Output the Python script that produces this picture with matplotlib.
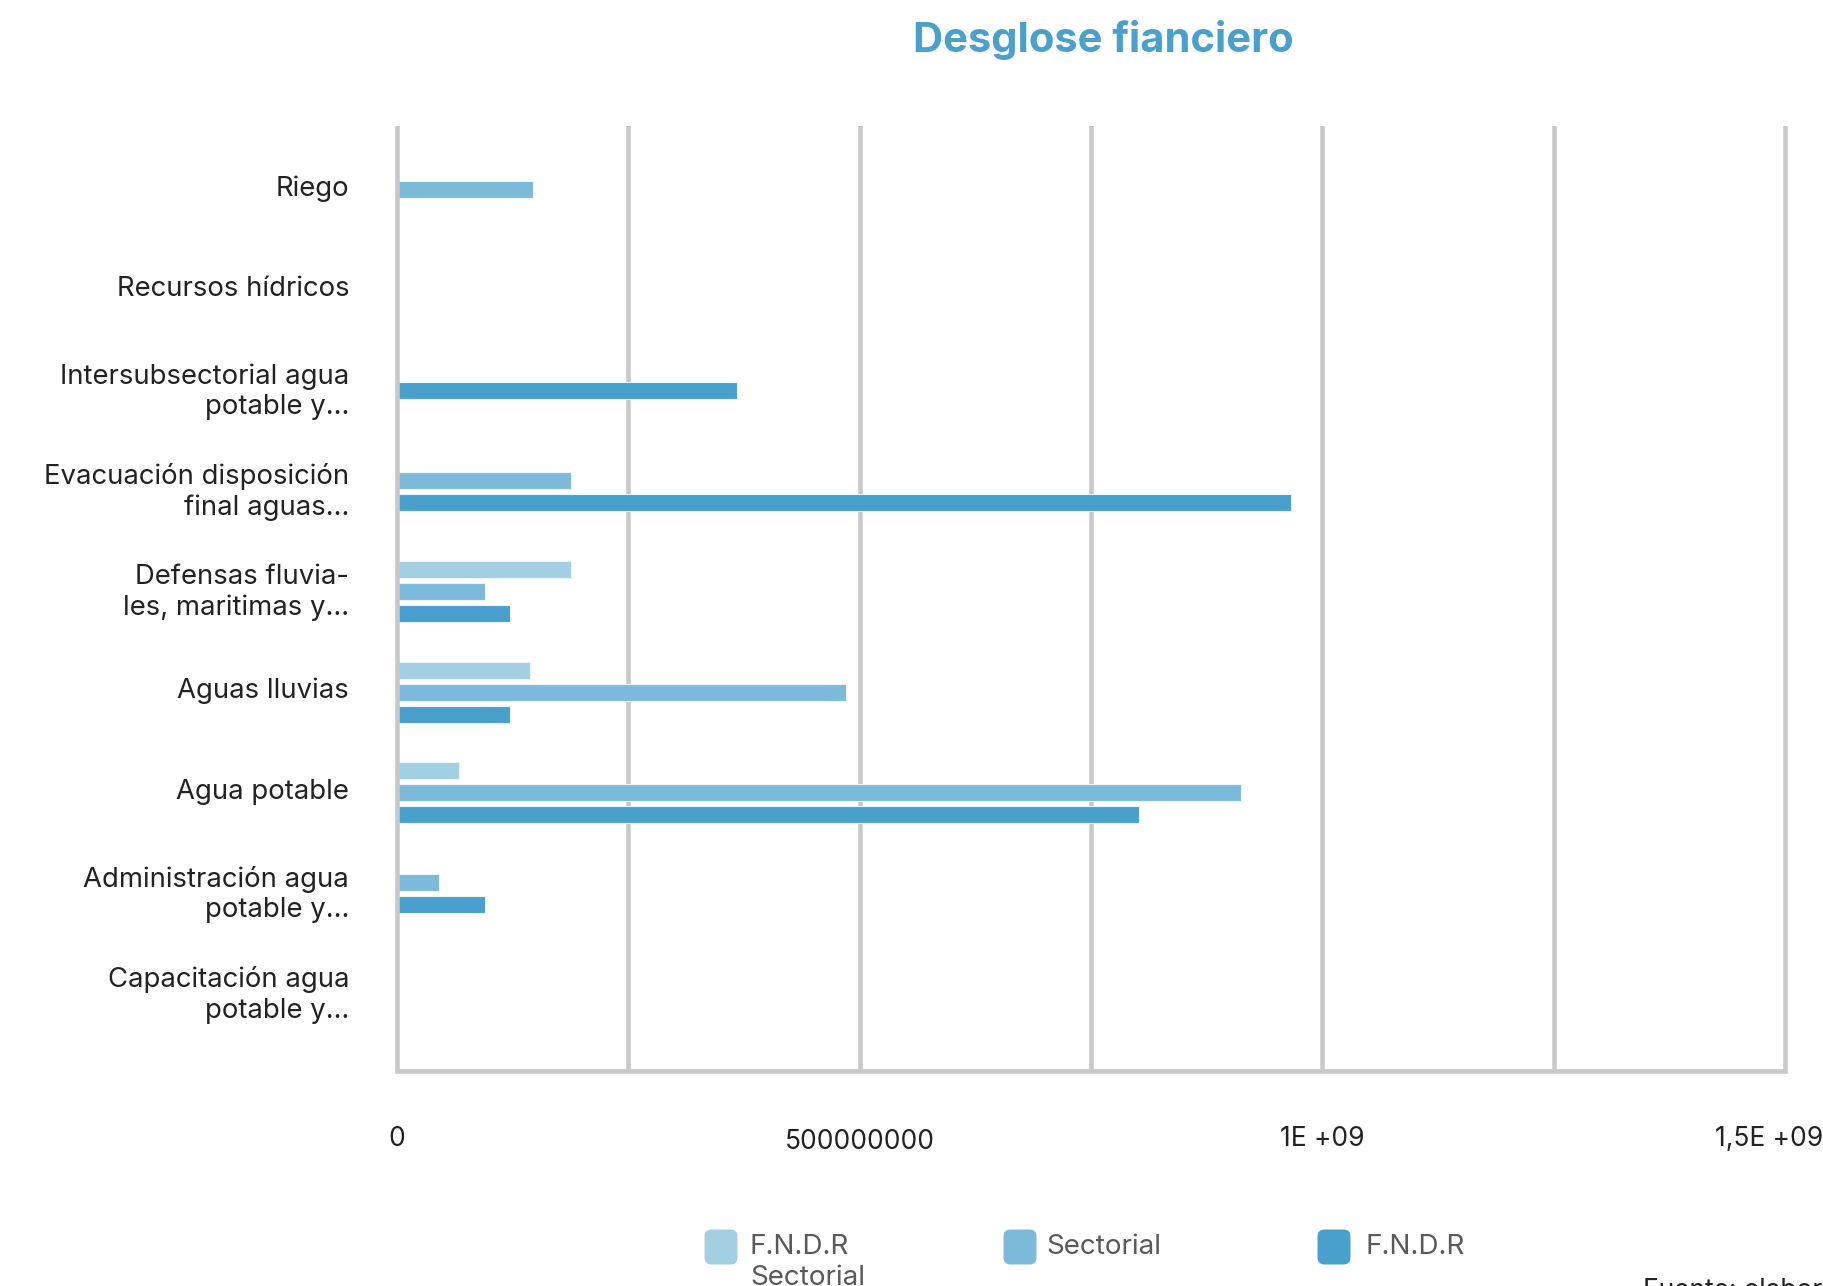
import matplotlib
matplotlib.use('Agg')
import matplotlib.pyplot as plt
from matplotlib.patches import FancyBboxPatch
import matplotlib.transforms as mtransforms

# ---------------- data ----------------
categories = [
    "Riego",
    "Recursos hídricos",
    "Intersubsectorial agua\npotable y…",
    "Evacuación disposición\nfinal aguas…",
    "Defensas fluvia-\nles, maritimas y…",
    "Aguas lluvias",
    "Agua potable",
    "Administración agua\npotable y…",
    "Capacitación agua\npotable y…",
]
series_names = ["F.N.D.R\nSectorial", "Sectorial", "F.N.D.R"]
fndr_sectorial = [0, 0, 0, 0, 188e6, 144e6, 67e6, 0, 0]
sectorial = [147e6, 0, 0, 188e6, 95e6, 485e6, 912e6, 46e6, 0]
fndr = [0, 0, 368e6, 966e6, 122e6, 122e6, 802e6, 95e6, 0]
x_ticks = [0, 5e8, 1e9, 1.5e9]
x_tick_labels = ["0", "500000000", "1E +09", "1,5E +09"]
grid_values = [0, 2.5e8, 5e8, 7.5e8, 1e9, 1.25e9, 1.5e9]

# ---------------- style ----------------
colors = ["#a3cfe3", "#7dbad9", "#4aa0cd"]
grid_color = "#c8c8c8"
W, H = 1824, 1286
plt.rcParams['font.family'] = ['Inter', 'DejaVu Sans']

fig = plt.figure(figsize=(W / 100, H / 100), dpi=100)
fig.patch.set_facecolor('white')

left, right, top, bottom = 393, 1789, 126, 1071
ax = fig.add_axes([left / W, 1 - bottom / H, (right - left) / W, (bottom - top) / H])

series = [fndr_sectorial, sectorial, fndr]
bar_h = 0.17
step = 0.22
bar_shift = 0.042
for i in range(len(categories)):
    present = [s for s in range(3) if series[s][i] > 0]
    n = len(present)
    for k, s in enumerate(present):
        y = i + bar_shift + (k - (n - 1) / 2) * step
        ax.barh(y, series[s][i], height=bar_h, left=0, color=colors[s],
                edgecolor='#eaf4fa', linewidth=0.8, zorder=3)

for g in grid_values:
    ax.axvline(g, color=grid_color, lw=3.3, zorder=2 if g > 0 else 4)

ax.set_xlim(-4e6, 1.504e9)
ax.set_ylim(len(categories) - 1 + 0.809, -0.59)

for sp in ['top', 'right', 'left']:
    ax.spines[sp].set_visible(False)
ax.spines['bottom'].set_color(grid_color)
ax.spines['bottom'].set_linewidth(3.3)
ax.spines['bottom'].set_bounds(0, 1.5e9)

ax.set_xticks([])
trans = mtransforms.blended_transform_factory(ax.transData, ax.transAxes)
for xv, lab in zip(x_ticks, x_tick_labels):
    dy = -0.0715 if lab != "500000000" else -0.0755
    tr = trans
    if xv == x_ticks[-1]:
        tr = trans + mtransforms.ScaledTranslation(-0.16, 0, fig.dpi_scale_trans)
    ax.text(xv, dy, lab, transform=tr, ha='center', va='center', fontsize=19, color='#222222')

ax.set_yticks(range(len(categories)))
ax.set_yticklabels(categories, fontsize=19.8, color='#222222', linespacing=1.22)
ax.tick_params(axis='y', length=0, pad=31.5)
for t in ax.get_yticklabels():
    t.set_horizontalalignment('right')

# title
fig.text(1103 / W, 1 - 40 / H, "Desglose fianciero", ha='center', va='center',
         fontsize=30, fontweight='bold', color='#4aa0cd')

# legend
leg_y = 1247
patch_x = [721, 1020, 1334]
text_x = [750, 1046, 1366]
for px, tx, c, name in zip(patch_x, text_x, colors, series_names):
    w, h = 33, 35
    p = FancyBboxPatch((px - w / 2, H - leg_y - h / 2), w, h,
                       boxstyle="round,pad=0,rounding_size=7",
                       transform=None, facecolor=c, edgecolor='none')
    fig.patches.append(p)
    fig.text(tx / W, 1 - (leg_y - 13) / H, name, ha='left', va='top',
             fontsize=20, color='#5a5a5a', linespacing=1.25)

fig.text(1643 / W, 1 - 1298 / H, "Fuente: elaboración propia", ha='left', va='baseline',
         fontsize=19, color='#222222')

fig.savefig('out.png', dpi=100, facecolor='white')
